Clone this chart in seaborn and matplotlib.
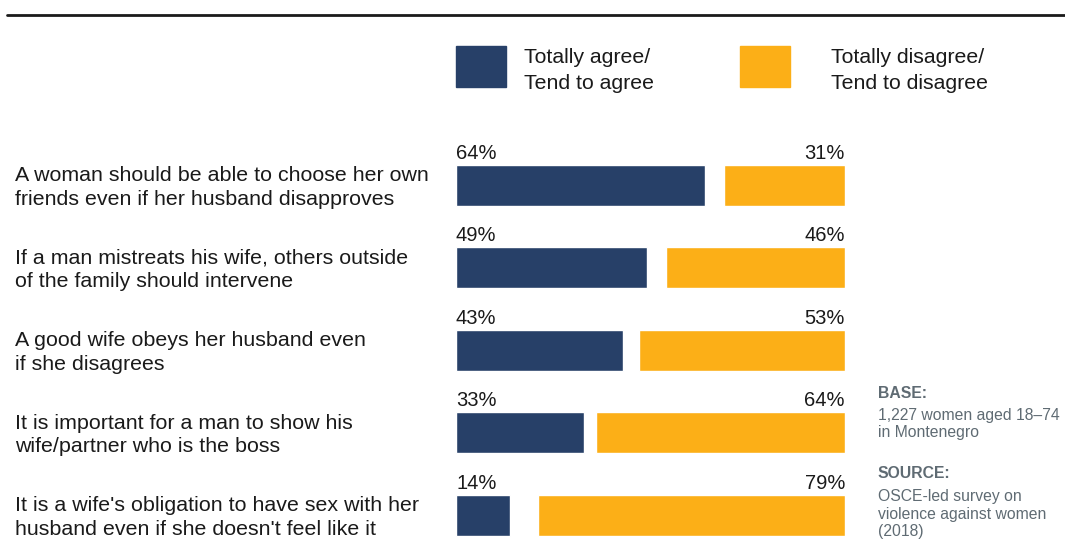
import pandas as pd
import seaborn as sns
import matplotlib.pyplot as plt
from matplotlib.transforms import blended_transform_factory
from matplotlib.patches import Rectangle

# data
statements = [
    "A woman should be able to choose her own\nfriends even if her husband disapproves",
    "If a man mistreats his wife, others outside\nof the family should intervene",
    "A good wife obeys her husband even\nif she disagrees",
    "It is important for a man to show his\nwife/partner who is the boss",
    "It is a wife's obligation to have sex with her\nhusband even if she doesn't feel like it",
]
agree = [64, 49, 43, 33, 14]
disagree = [31, 46, 53, 64, 79]

NAVY = "#274068"
ORANGE = "#fcaf17"
GREY = "#5f6b73"
INK = "#1a1a1a"

sns.set_style("white")
plt.rcParams['font.family'] = ['Liberation Sans', 'DejaVu Sans']

df = pd.DataFrame({"statement": statements, "agree": agree, "disagree": disagree})

fig = plt.figure(figsize=(10.65, 5.55), dpi=100)
ax = fig.add_axes([456 / 1065, 1 - 540 / 555, 389 / 1065, 396 / 555])

sns.barplot(data=df, y="statement", x="agree", color=NAVY, width=0.5,
            saturation=1, orient="h", ax=ax)
ax.barh(range(len(statements)), df["disagree"], left=100 - df["disagree"],
        height=0.5, color=ORANGE)

ax.set_xlim(0, 100)
ax.set_ylim(4.3, -0.5)
ax.axis("off")

for i, (a, d) in enumerate(zip(agree, disagree)):
    ax.text(0, i - 0.27, f"{a}%", ha="left", va="bottom", fontsize=14.5, color=INK)
    ax.text(100, i - 0.27, f"{d}%", ha="right", va="bottom", fontsize=14.5, color=INK)

trans = blended_transform_factory(fig.transFigure, ax.transData)
for i, s in enumerate(statements):
    ax.text(15 / 1065, i + 0.03, s, transform=trans, ha="left", va="center",
            fontsize=15.4, color=INK, linespacing=1.3)

# top rule
fig.add_artist(plt.Line2D([7 / 1065, 1.0], [1 - 15 / 555] * 2, color=INK, lw=2))

# legend
for x0, col, lab, tx in [(456, NAVY, "Totally agree/\nTend to agree", 524),
                         (740, ORANGE, "Totally disagree/\nTend to disagree", 831)]:
    fig.add_artist(Rectangle((x0 / 1065, 1 - 87 / 555), 50 / 1065, 41 / 555,
                             transform=fig.transFigure, color=col))
    fig.text(tx / 1065, 1 - 70.5 / 555, lab, ha="left", va="center", fontsize=15.3,
             color=INK, linespacing=1.5)

# notes
fig.text(878 / 1065, 1 - 393 / 555, "BASE:", fontsize=11.3, fontweight="bold",
         color=GREY, va="center")
fig.text(878 / 1065, 1 - 424 / 555, "1,227 women aged 18–74\nin Montenegro",
         fontsize=11.3, color=GREY, va="center", linespacing=1.2)
fig.text(878 / 1065, 1 - 474 / 555, "SOURCE:", fontsize=11.3, fontweight="bold",
         color=GREY, va="center")
fig.text(878 / 1065, 1 - 514 / 555, "OSCE-led survey on\nviolence against women\n(2018)",
         fontsize=11.3, color=GREY, va="center", linespacing=1.2)

fig.savefig("out.png", dpi=100)
